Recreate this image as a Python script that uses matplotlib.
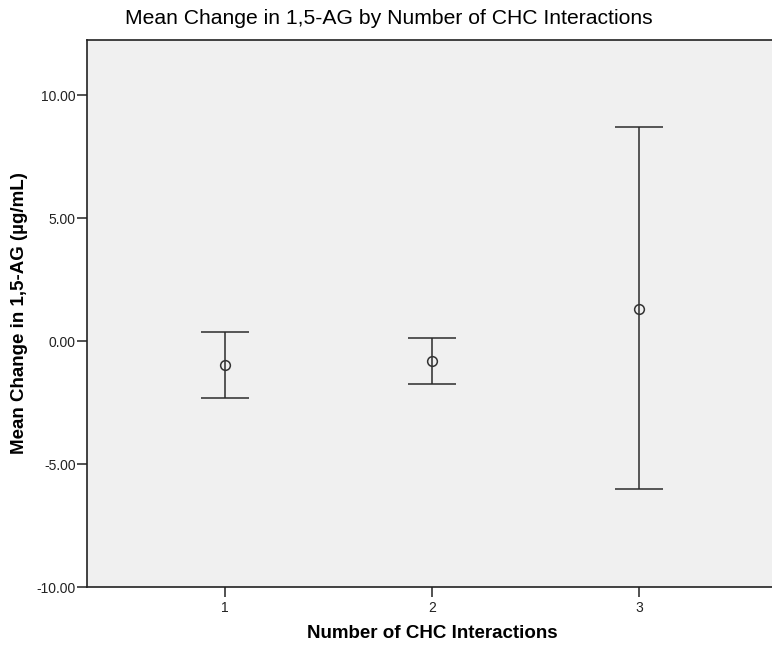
import numpy as np
import matplotlib.pyplot as plt
from matplotlib.ticker import FormatStrFormatter

# Number of CHC interactions and the mean change in 1,5-AG with its CI
groups = [1, 2, 3]
group_labels = ['1', '2', '3']
means = [-0.98, -0.80, 1.31]
ci_upper = [0.37, 0.13, 8.70]
ci_lower = [-2.32, -1.74, -6.03]

plt.rcParams['font.family'] = ['Liberation Sans', 'DejaVu Sans']

fig = plt.figure(figsize=(7.72, 6.48), dpi=100)
ax = fig.add_axes([0.1127, 0.0941, 0.8938, 0.8441])
ax.set_facecolor('#f0f0f0')

means = np.array(means)
yerr = np.vstack([means - np.array(ci_lower), np.array(ci_upper) - means])

ax.errorbar(groups, means, yerr=yerr, fmt='o', color='#2b2b2b',
            ecolor='#2b2b2b', elinewidth=1.1, capsize=17, capthick=1.4,
            markersize=7, markerfacecolor='none', markeredgecolor='#333333',
            markeredgewidth=1.1)

ax.set_xlim(0.333, 3.667)
ax.set_ylim(-10, 12.24)
ax.set_xticks(groups)
ax.set_xticklabels(group_labels)
ax.set_yticks([-10, -5, 0, 5, 10])
ax.yaxis.set_major_formatter(FormatStrFormatter('%.2f'))

for side in ['left', 'bottom', 'top', 'right']:
    ax.spines[side].set_color('#222222')
    ax.spines[side].set_linewidth(1.2)

ax.tick_params(axis='both', direction='out', length=7, width=1.1,
               color='#222222', labelsize=10, labelcolor='#222222', pad=1)
ax.tick_params(axis='x', pad=3)

ax.set_xlabel('Number of CHC Interactions', fontsize=13.5, fontweight='bold',
              labelpad=7)
ax.set_ylabel('Mean Change in 1,5-AG (µg/mL)', fontsize=13.5, fontweight='bold',
              labelpad=6)

fig.text(0.504, 0.972, 'Mean Change in 1,5-AG by Number of CHC Interactions',
         ha='center', va='center', fontsize=15.2)

fig.savefig('out.png', dpi=100, facecolor='white')
